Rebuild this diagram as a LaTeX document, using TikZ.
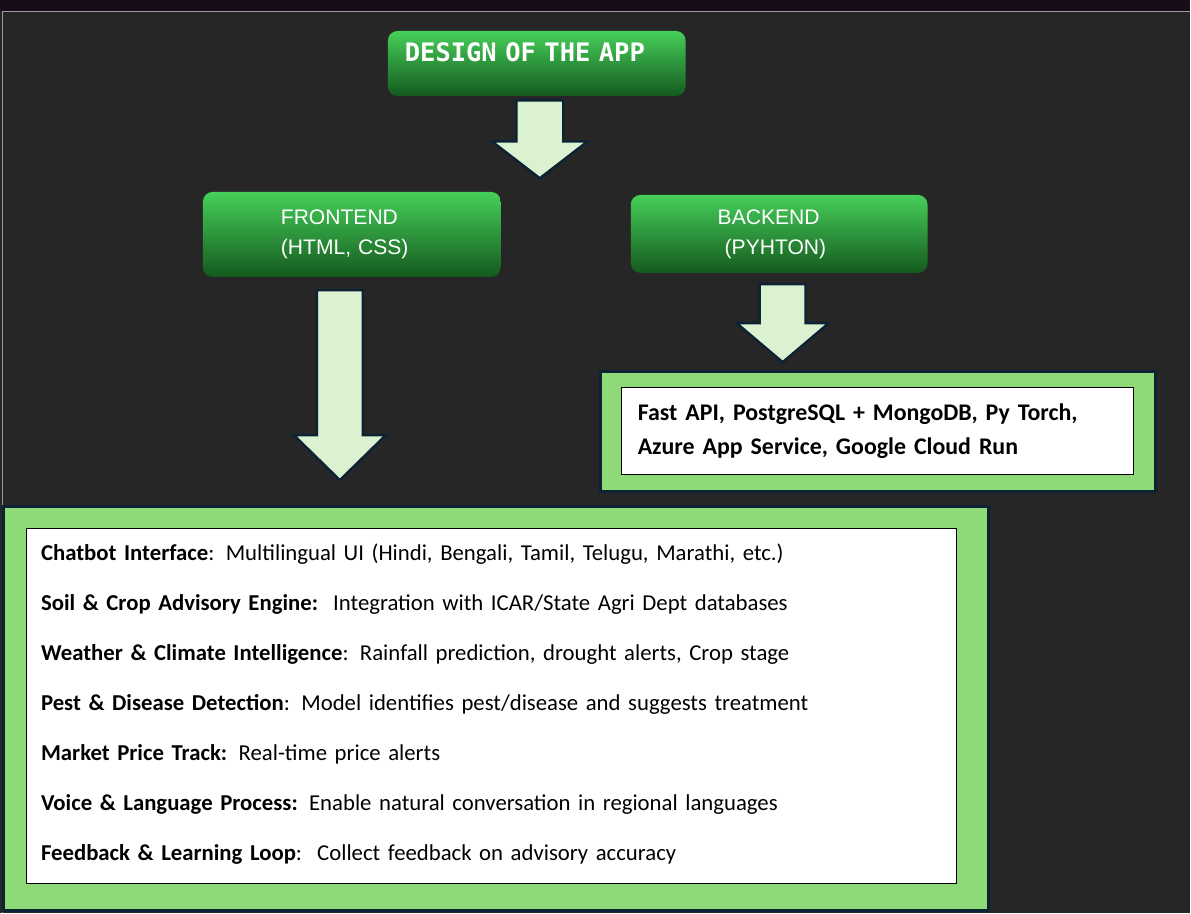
\documentclass[tikz,border=0pt]{standalone}
\usepackage{fontspec}
\setmainfont{Carlito}
\newfontfamily\headfont{Liberation Sans}
\newfontfamily\titlefont{DejaVu Sans Mono}
\usetikzlibrary{calc}

\definecolor{bgdark}{HTML}{262626}
\definecolor{topstrip}{HTML}{190C19}
\definecolor{framegray}{HTML}{9E999D}
\definecolor{greentop}{HTML}{46CF59}
\definecolor{greenmid}{HTML}{248C34}
\definecolor{greenbot}{HTML}{145A1E}
\definecolor{arrowfill}{HTML}{DAF2D0}
\definecolor{navy}{HTML}{0D2233}
\definecolor{panelgreen}{HTML}{8FDA78}

\tikzset{
  headbox/.style={rounded corners=5.5pt, top color=greentop, middle color=greenmid,
    bottom color=greenbot, text=white, inner sep=0pt},
  panel/.style={fill=panelgreen, draw=navy, line width=1.7pt, inner sep=0pt},
  listbox/.style={fill=white, draw=black, line width=0.6pt, align=left, inner ysep=0pt},
  bigarrow/.style={fill=arrowfill, draw=navy, line width=1.4pt, line join=miter}
}

% shaft from #1 to the tip #2; half shaft #3, half head #4, head length #5
\newcommand{\blockarrow}[5]{%
  \draw[bigarrow] ($(#1)+(-#3,0)$) -- ($(#2)+(-#3,-#5)$) -- ($(#2)+(-#4,-#5)$) -- (#2)
    -- ($(#2)+(#4,-#5)$) -- ($(#2)+(#3,-#5)$) -- ($(#1)+(#3,0)$) -- cycle;}

\begin{document}
\begin{tikzpicture}[x=0.02cm,y=-0.02cm]
	% background and frame
	\fill[bgdark] (0,0) rectangle (1191,913);
	\fill[topstrip] (0,0) rectangle (1191,11);
	\draw[framegray, line width=0.6pt] (2.5,913) -- (2.5,11.5) -- (1191,11.5);
	\useasboundingbox (0,0) rectangle (1191,913);

	% headers
	\node[headbox, text width=5.28cm, inner xsep=0.34cm, align=left, minimum height=1.3cm,
		text height=10pt, text depth=11.7pt, font=\titlefont\bfseries\fontsize{14.5}{16}\selectfont]
		(title) at (537,63.5) {DESIGN OF THE APP};
	\node[headbox, text width=2.84cm, inner xsep=1.56cm, minimum height=1.7cm, align=left,
		font=\headfont\fontsize{12}{17}\selectfont] (front) at (352,234.5) {FRONTEND\\(HTML, CSS)};
	\node[headbox, text width=2.46cm, inner xsep=1.74cm, minimum height=1.56cm, align=left,
		font=\headfont\fontsize{12}{17}\selectfont] (back) at (779.5,234) {BACKEND\\\ (PYHTON)};

	% backend stack
	\node[panel, minimum width=11.1cm, minimum height=2.4cm] (backpanel) at (878.5,432) {};
	\node[listbox, text width=9.6cm, inner xsep=0.32cm, minimum height=1.74cm,
		font=\bfseries\fontsize{13.6}{19.3}\selectfont] (backlist) at (878,431.5)
		{Fast API, PostgreSQL + MongoDB, Py Torch,\\Azure App Service, Google Cloud Run};

	% frontend features
	\node[panel, minimum width=19.72cm, minimum height=8.08cm] (frontpanel) at (496,709) {};
	\node[listbox, text width=18.02cm, inner xsep=0.3cm, minimum height=7.1cm,
		font=\fontsize{12.95}{28.45}\selectfont] (frontlist) at (491.5,706.5) {%
		\textbf{Chatbot Interface}: Multilingual UI (Hindi, Bengali, Tamil, Telugu, Marathi, etc.)\\
		\textbf{Soil \& Crop Advisory Engine:}\ \ Integration with ICAR/State Agri Dept databases\\
		\textbf{Weather \& Climate Intelligence}: Rainfall prediction, drought alerts, Crop stage\\
		\textbf{Pest \& Disease Detection}: Model identifies pest/disease and suggests treatment\\
		\textbf{Market Price Track:} Real-time price alerts\\
		\textbf{Voice \& Language Process:} Enable natural conversation in regional languages\\
		\textbf{Feedback \& Learning Loop}:\ \ Collect feedback on advisory accuracy\rule[-4.5pt]{0pt}{0pt}};

	% arrows
	\coordinate (a1top) at ($(title.south)+(3,4)$);
	\coordinate (a1tip) at ($(a1top)+(0,78)$);
	\coordinate (a2top) at ($(front.south)+(-12,13)$);
	\coordinate (a2tip) at ($(a2top)+(0,190)$);
	\coordinate (a3top) at ($(back.south)+(3.5,11)$);
	\coordinate (a3tip) at ($(a3top)+(0,78)$);
	\blockarrow{a1top}{a1tip}{23.5}{48}{37}
	\blockarrow{a2top}{a2tip}{23}{46}{45}
	\blockarrow{a3top}{a3tip}{23}{46}{39}
\end{tikzpicture}
\end{document}
